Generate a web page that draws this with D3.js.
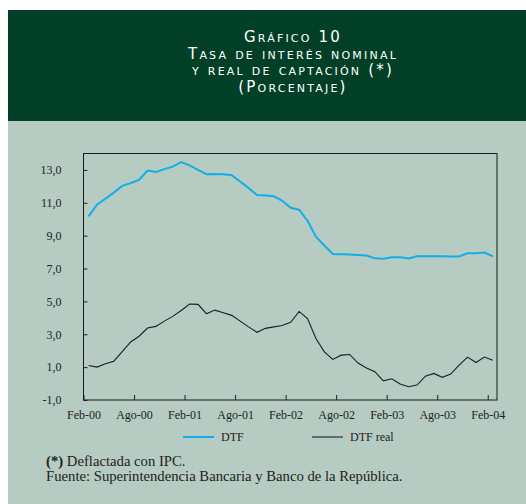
<!DOCTYPE html>
<html>
<head>
<meta charset="utf-8">
<script src="https://cdn.jsdelivr.net/npm/d3@7"></script>
<style>
  body { margin: 0; background: #fff; }
  svg { display: block; }
</style>
</head>
<body>
<div id="chart"></div>
<script>
// months from Feb-00 to Feb-04, one value each
var months = d3.range(49);
var dtf = [10.17, 10.88, 11.25, 11.62, 12.03, 12.2, 12.4, 12.96, 12.88, 13.05,
  13.2, 13.48, 13.28, 13.0, 12.74, 12.75, 12.74, 12.68, 12.3, 11.9,
  11.47, 11.45, 11.4, 11.12, 10.7, 10.58, 9.91, 8.94, 8.4, 7.89,
  7.87, 7.85, 7.83, 7.79, 7.62, 7.59, 7.69, 7.69, 7.61, 7.75,
  7.75, 7.75, 7.74, 7.73, 7.73, 7.93, 7.93, 7.97, 7.75];
var dtfReal = [1.1, 1.0, 1.2, 1.36, 1.95, 2.53, 2.88, 3.38, 3.48, 3.8,
  4.09, 4.45, 4.84, 4.82, 4.25, 4.47, 4.31, 4.15, 3.8, 3.45,
  3.12, 3.36, 3.45, 3.53, 3.73, 4.39, 3.95, 2.74, 1.93, 1.47,
  1.73, 1.77, 1.25, 0.95, 0.72, 0.17, 0.29, -0.03, -0.19, -0.09,
  0.45, 0.62, 0.38, 0.58, 1.12, 1.61, 1.28, 1.61, 1.42];
var xTicks = [0, 6, 12, 18, 24, 30, 36, 42, 48];
var xLabels = ["Feb-00", "Ago-00", "Feb-01", "Ago-01", "Feb-02", "Ago-02", "Feb-03", "Ago-03", "Feb-04"];
var yTicks = [-1, 1, 3, 5, 7, 9, 11, 13];
var titleLines = ["Gráfico 10", "Tasa de interés nominal", "y real de captación (*)", "(Porcentaje)"];

var W = 526, H = 504;
var serif = "'Liberation Serif', 'Times New Roman', serif";
var svg = d3.select("#chart").append("svg")
  .attr("width", W)
  .attr("height", H);

// header and panel
svg.append("rect").attr("x", 8).attr("y", 10).attr("width", W - 8).attr("height", 111).attr("fill", "#013f27");
svg.append("rect").attr("x", 8).attr("y", 121).attr("width", W - 8).attr("height", H - 121).attr("fill", "#b6cbc1");

svg.append("g").selectAll("text")
  .data(titleLines)
  .enter().append("text")
  .attr("x", 293)
  .attr("y", function(d, i) { return 42 + i * 16.5; })
  .attr("text-anchor", "middle")
  .attr("fill", "#fff")
  .style("font-family", "'DejaVu Sans', sans-serif")
  .style("font-size", "15px")
  .style("font-variant", "small-caps")
  .style("letter-spacing", "2.2px")
  .text(function(d) { return d; });

var mLeft = 83.5, mRight = 497, mTop = 153.5, mBottom = 400;

var x = d3.scaleLinear().domain([0, 49.1]).range([mLeft, mRight]);
var y = d3.scaleLinear().domain([-1, 14]).range([mBottom, mTop]);

var xAxis = d3.axisBottom(x)
  .tickValues(xTicks)
  .tickFormat(function(d, i) { return xLabels[i]; })
  .tickSizeInner(-5)
  .tickSizeOuter(0)
  .tickPadding(10);

var yAxis = d3.axisLeft(y)
  .tickValues(yTicks)
  .tickFormat(function(d) { return d3.format(".1f")(d).replace(".", ",").replace("\u2212", "-"); })
  .tickSizeInner(-4)
  .tickSizeOuter(0)
  .tickPadding(22);

var gx = svg.append("g")
  .attr("transform", "translate(0," + mBottom + ")")
  .call(xAxis);
var gy = svg.append("g")
  .attr("transform", "translate(" + mLeft + ",0)")
  .call(yAxis);

[gx, gy].forEach(function(g) {
  g.select(".domain").remove();
  g.selectAll("line").attr("stroke", "#222");
  g.selectAll("text")
    .attr("fill", "#222")
    .style("font-family", serif)
    .style("font-size", "12px");
});

svg.append("rect")
  .attr("x", mLeft).attr("y", mTop)
  .attr("width", mRight - mLeft).attr("height", mBottom - mTop)
  .attr("fill", "none")
  .attr("stroke", "#1a1a1a")
  .attr("stroke-width", 1);

var line = d3.line()
  .x(function(d) { return x(d[0] + 0.6); })
  .y(function(d) { return y(d[1]); });

svg.append("path")
  .datum(months.map(function(m) { return [m, dtf[m]]; }))
  .attr("d", line)
  .attr("fill", "none")
  .attr("stroke", "#12aee9")
  .attr("stroke-width", 2);

svg.append("path")
  .datum(months.map(function(m) { return [m, dtfReal[m]]; }))
  .attr("d", line)
  .attr("fill", "none")
  .attr("stroke", "#1e1e1e")
  .attr("stroke-width", 1.1);

// legend
var legend = [
  {name: "DTF", color: "#12aee9", width: 2, x: 183},
  {name: "DTF real", color: "#1e1e1e", width: 1.1, x: 312}
];
var lg = svg.append("g").selectAll("g")
  .data(legend)
  .enter().append("g")
  .attr("transform", function(d) { return "translate(" + d.x + ",437)"; });
lg.append("line")
  .attr("x1", 0).attr("x2", 31)
  .attr("stroke", function(d) { return d.color; })
  .attr("stroke-width", function(d) { return d.width; });
lg.append("text")
  .attr("x", 38).attr("y", 4)
  .attr("fill", "#222")
  .style("font-family", serif)
  .style("font-size", "12px")
  .text(function(d) { return d.name; });

// notes
var note = svg.append("text")
  .attr("x", 46).attr("y", 466)
  .attr("fill", "#222")
  .style("font-family", serif)
  .style("font-size", "14.7px");
note.append("tspan").style("font-weight", "bold").text("(*)");
note.append("tspan").text(" Deflactada con IPC.");
svg.append("text")
  .attr("x", 46).attr("y", 481)
  .attr("fill", "#222")
  .style("font-family", serif)
  .style("font-size", "14.7px")
  .text("Fuente: Superintendencia Bancaria y Banco de la República.");
</script>
</body>
</html>
